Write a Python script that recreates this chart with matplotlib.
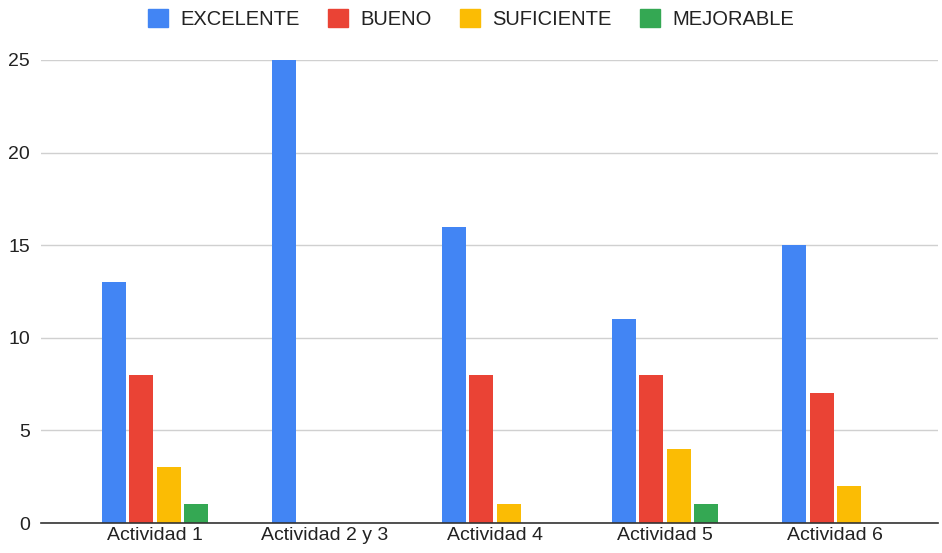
import numpy as np
import matplotlib.pyplot as plt
from matplotlib.patches import Patch

plt.rcParams['font.family'] = ['Liberation Sans', 'DejaVu Sans']

# Data
actividades = ['Actividad 1', 'Actividad 2 y 3', 'Actividad 4', 'Actividad 5', 'Actividad 6']
excelente = [13, 25, 16, 11, 15]
bueno = [8, 0, 8, 8, 7]
suficiente = [3, 0, 1, 4, 2]
mejorable = [1, 0, 0, 1, 0]

series = [('EXCELENTE', excelente, '#4285F4'),
          ('BUENO', bueno, '#EA4335'),
          ('SUFICIENTE', suficiente, '#FBBC04'),
          ('MEJORABLE', mejorable, '#34A853')]

fig = plt.figure(figsize=(9.42, 5.53), dpi=100)
ax = fig.add_axes([41 / 942, 30 / 553, 897 / 942, 463 / 553])

x = np.arange(len(actividades))
slot = 0.16
width = 0.141
for i, (name, vals, col) in enumerate(series):
    ax.bar(x + (i - 1.5) * slot, vals, width, color=col, label=name, zorder=3, clip_on=False)

ax.set_xlim(-0.67, 4.605)
ax.set_ylim(0, 25)
ax.set_yticks([0, 5, 10, 15, 20, 25])
ax.set_xticks(x)
ax.set_xticklabels(actividades)
ax.tick_params(axis='both', length=0, labelsize=14, colors='#222222')
ax.tick_params(axis='y', pad=8)
ax.tick_params(axis='x', pad=3)
ax.grid(axis='y', color='#d0d0d0', linewidth=1, zorder=0)
for s in ['top', 'right', 'left']:
    ax.spines[s].set_visible(False)
ax.spines['bottom'].set_color('#333333')
ax.spines['bottom'].set_linewidth(1.2)
ax.spines['bottom'].set_zorder(4)

handles = [Patch(color=c, label=n) for n, v, c in series]
fig.legend(handles=handles, loc='center', bbox_to_anchor=(0.5, 1 - 19 / 553), ncol=4,
           frameon=False, fontsize=14.5, handlelength=1.0, handleheight=1.0,
           handletextpad=0.62, columnspacing=1.4, labelcolor='#222222')

fig.savefig('out.png', dpi=100)
